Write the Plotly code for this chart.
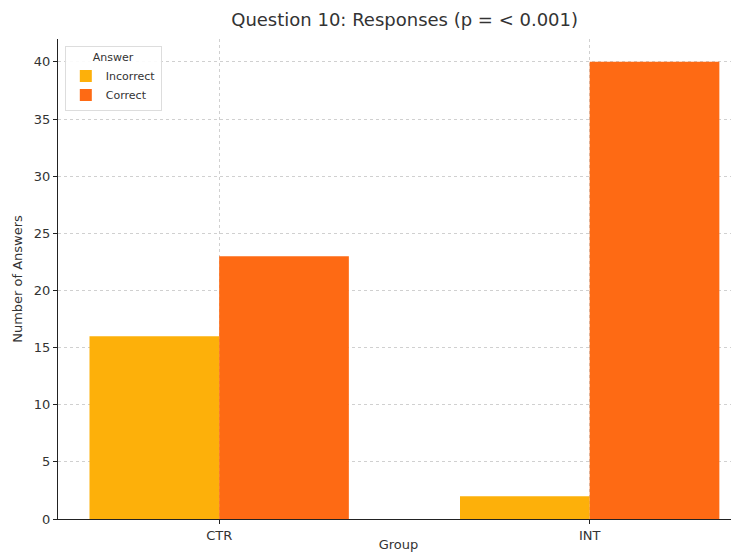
import plotly.graph_objects as go

groups = ["CTR", "INT"]
incorrect = [16, 2]
correct = [23, 40]
series_names = ["Incorrect", "Correct"]
y_ticks = [0, 5, 10, 15, 20, 25, 30, 35, 40]

colors = ["#FDB00A", "#FE6A14"]
font_family = "DejaVu Sans, sans-serif"
text_color = "#333333"

fig = go.Figure()
for name, vals, col in zip(series_names, [incorrect, correct], colors):
    fig.add_trace(go.Bar(x=groups, y=vals, name=name, marker=dict(color=col, line=dict(width=0))))

fig.update_layout(
    width=731, height=544,
    margin=dict(l=50, r=0, t=31, b=33, autoexpand=False),
    plot_bgcolor="white", paper_bgcolor="white",
    barmode="group", bargap=0.3, bargroupgap=0,
    font=dict(family=font_family, color=text_color, size=13),
    title=dict(text="Question 10: Responses (p = < 0.001)", x=0.509, xref="paper", xanchor="center",
               y=0.978, yref="container", yanchor="middle",
               font=dict(size=18, color="#333333")),
    legend=dict(x=0.01, y=0.985, xanchor="left", yanchor="top",
                bgcolor="rgba(255,255,255,0.9)", bordercolor="#dddddd", borderwidth=1,
                title=dict(text="Answer", side="top center", font=dict(size=11)),
                font=dict(size=11), itemwidth=30, tracegroupgap=0),
    xaxis=dict(range=[-0.435, 1.403], showgrid=True, gridcolor="#d0d0d0", griddash="dot", gridwidth=1,
               showline=True, linecolor="#222222", linewidth=1.2, ticks="outside", ticklen=4,
               tickcolor="#222222", tickfont=dict(size=13),
               title=dict(text="Group", font=dict(size=13), standoff=4)),
    yaxis=dict(range=[0, 42], tickvals=y_ticks, showgrid=True, gridcolor="#d0d0d0", griddash="dot",
               gridwidth=1, showline=True, linecolor="#222222", linewidth=1.2, ticks="outside",
               ticklen=4, tickcolor="#222222", tickfont=dict(size=13), zeroline=False,
               title=dict(text="Number of Answers", font=dict(size=13), standoff=8)),
)

fig.write_html("out.html")
